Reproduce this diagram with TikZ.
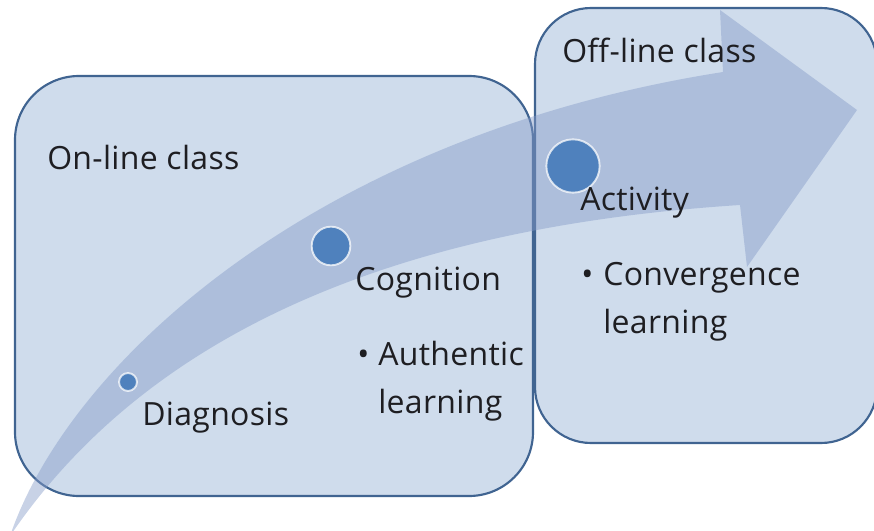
\documentclass[tikz,border=0pt]{standalone}
\usepackage{fontspec}
\setmainfont{Open Sans}[LetterSpace=1]
\definecolor{boxfill}{RGB}{207,220,236}
\definecolor{boxline}{RGB}{64,100,145}
\definecolor{flowfill}{RGB}{133,155,200}
\definecolor{dotblue}{RGB}{79,129,189}
\definecolor{ink}{RGB}{30,30,34}
\tikzset{
	classbox/.style={fill=boxfill,draw=boxline,line width=1.6pt},
	flow/.style={fill=flowfill,fill opacity=0.45},
	dot/.style={shape=circle,fill=dotblue,draw=white,draw opacity=0.75,line width=1.4pt,inner sep=0pt},
	txt/.style={anchor=base west,inner sep=0pt,text=ink,font=\fontsize{24}{36}\selectfont},
}
\begin{document}
\begin{tikzpicture}[x=0.75pt,y=-0.75pt]
	\useasboundingbox (0,0) rectangle (874,531);

	\draw[classbox,rounded corners=48pt] (15,76) rectangle (533,496);
	\draw[classbox,rounded corners=42pt] (535,8) rectangle (877,443);

	\fill[flow] (10,536) .. controls (70,360) and (320,135) .. (723,72) -- (720,10) -- (857,110)
		-- (747,267) -- (740,205) .. controls (430,225) and (160,315) .. (10,536) -- cycle;

	\node[dot,minimum size=13.5pt] (d1) at (128,382) {};
	\node[dot,minimum size=29pt] (d2) at (331,246) {};
	\node[dot,minimum size=40pt] (d3) at (573,166) {};

	\node[txt] (online)  at (47,170)  {On-line class};
	\node[txt] (offline) at (562,63)  {Off-line class};
	\node[txt] (diag)    at (142,425) {Diagnosis};
	\node[txt] (cogn)    at (355,290) {Cognition};
	\node[txt] (act)     at (580,210) {Activity};

	\node[txt] (bulA)  at (357,365) {\textbullet};
	\node[txt] (auth)  at (378,365) {Authentic};
	\node[txt] (authl) at (378,413) {learning};
	\node[txt] (bulC)  at (581,285) {\textbullet};
	\node[txt] (conv)  at (603,285) {Convergence};
	\node[txt] (convl) at (603,333) {learning};
\end{tikzpicture}
\end{document}
